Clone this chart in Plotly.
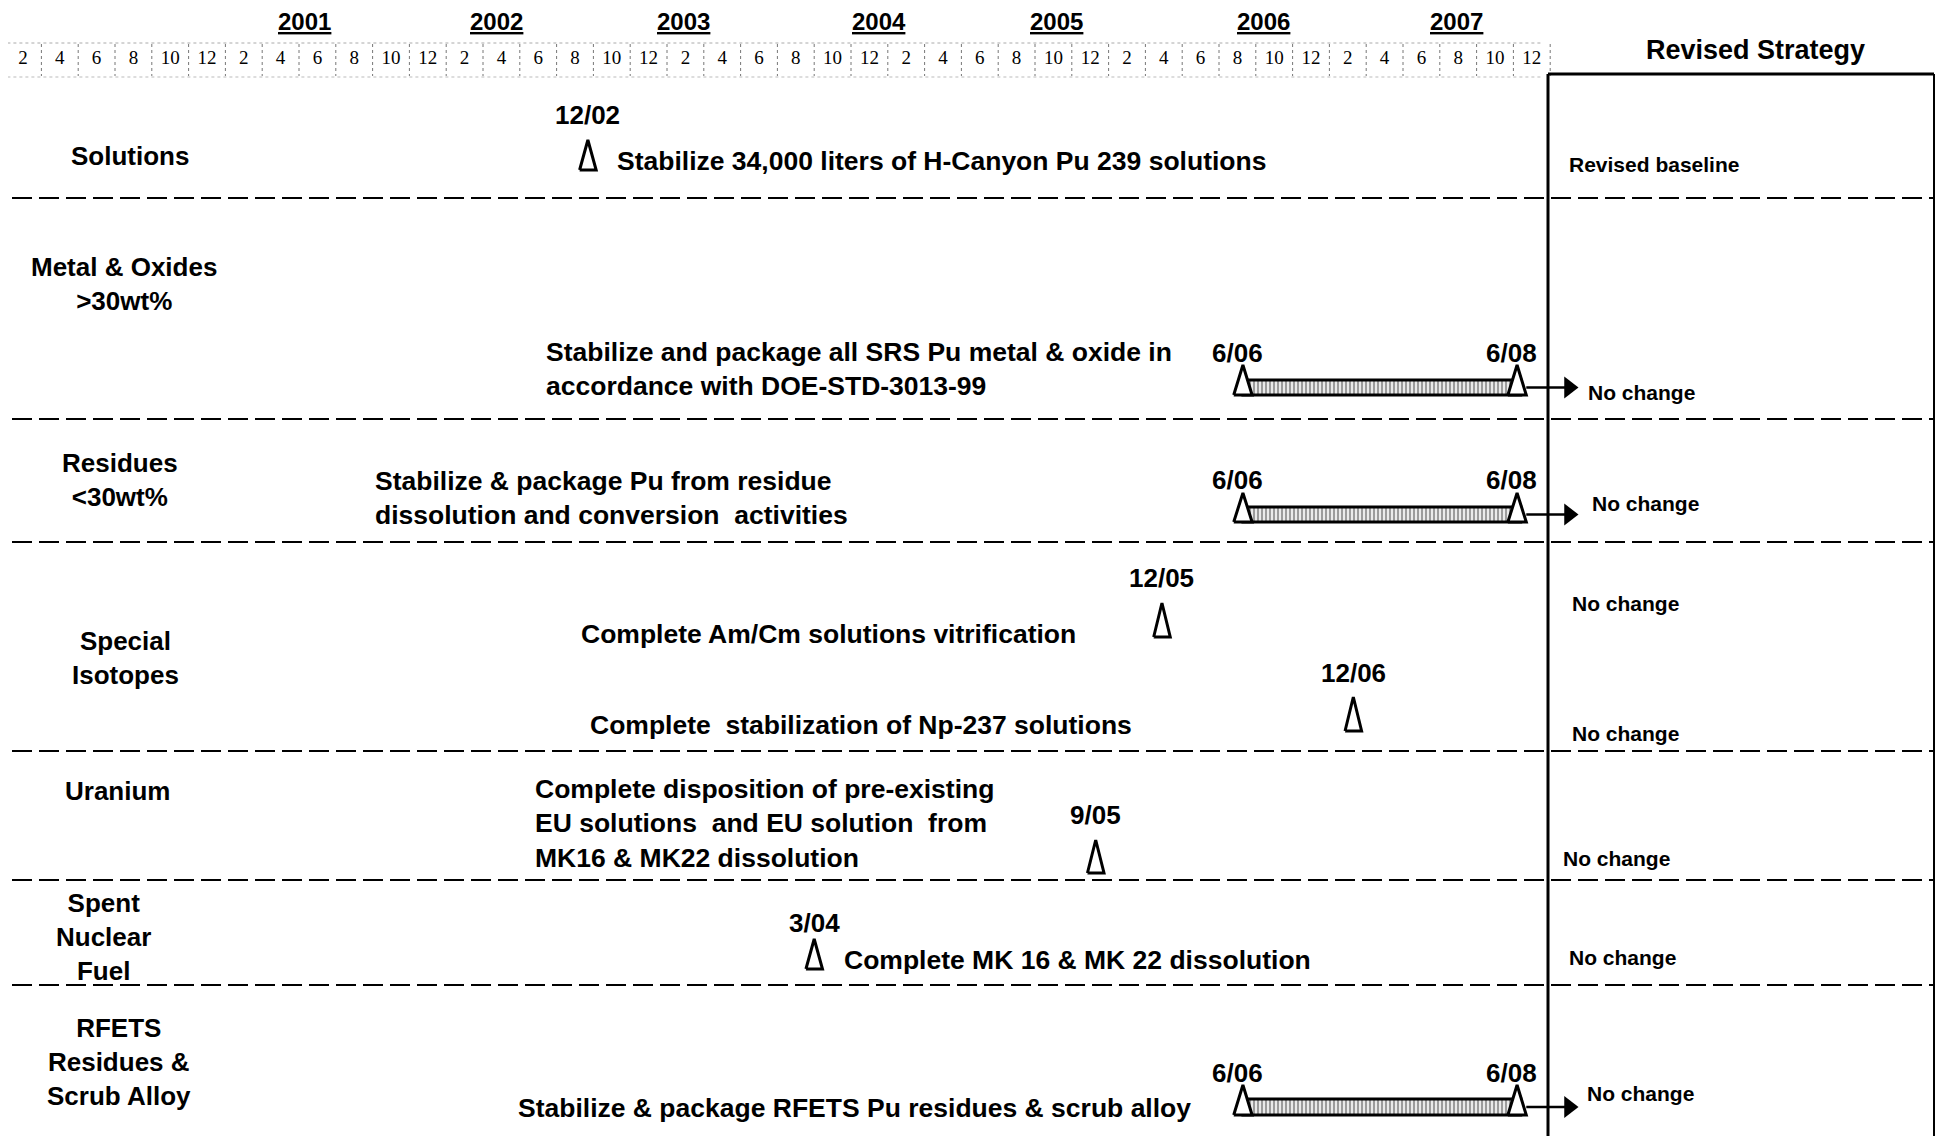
import plotly.graph_objects as go

W, H = 1944, 1144

# ------------------------------------------------------------------ data
years = ["2001", "2002", "2003", "2004", "2005", "2006", "2007"]
month_tick_labels = ["2", "4", "6", "8", "10", "12"]

categories = [
    "Solutions",
    "Metal & Oxides<br>>30wt%",
    "Residues<br>&lt;30wt%",
    "Special<br>Isotopes",
    "Uranium",
    "Spent<br>Nuclear<br>Fuel",
    "RFETS<br>Residues &<br>Scrub Alloy",
]

# single milestones: date label, plotted position on the chart's month scale
# (months after Jan 2001, as drawn), category row, description
milestone_dates = ["12/02", "12/05", "12/06", "9/05", "3/04"]
milestone_pos = [31.7, 62.9, 73.3, 59.3, 44.0]
milestone_row = [0, 3, 3, 4, 5]
milestone_text = [
    "Stabilize 34,000 liters of H-Canyon Pu 239 solutions",
    "Complete Am/Cm solutions vitrification",
    "Complete  stabilization of Np-237 solutions",
    "Complete disposition of pre-existing<br>EU solutions  and EU solution  from<br>MK16 & MK22 dissolution",
    "Complete MK 16 & MK 22 dissolution",
]

# activity bars
bar_start_dates = ["6/06", "6/06", "6/06"]
bar_end_dates = ["6/08", "6/08", "6/08"]
bar_start = [67.3, 67.3, 67.3]
bar_end = [82.2, 82.2, 82.2]
bar_row = [1, 2, 6]
bar_text = [
    "Stabilize and package all SRS Pu metal & oxide in<br>accordance with DOE-STD-3013-99",
    "Stabilize & package Pu from residue<br>dissolution and conversion  activities",
    "Stabilize & package RFETS Pu residues & scrub alloy",
]

status_text = ["Revised baseline", "No change", "No change", "No change",
               "No change", "No change", "No change", "No change"]

# ------------------------------------------------------------------ layout helpers (pixels)
OFF = 8                                  # page body margin
FW, FH = W - 2 * OFF, H - 2 * OFF
X0, DX = 4.6, 18.4                       # month scale: screen px = X0 + DX * month_index
def px2m(p):
    return (p - X0) / DX

def px(x):
    return (x - OFF) / FW

FONT = "Liberation Sans, Arial, sans-serif"
SERIF = "Liberation Serif, Times New Roman, serif"

row_sep_y = [198, 419, 542, 751, 880, 985]
row_label_xy = [(130, 156), (124, 284), (120, 480), (125, 658), (117, 791), (103, 937), (119, 1062)]
year_label_x = [304, 496, 683, 879, 1056, 1263, 1456]

ms_geom = [  # (label_y, apex_y, base_y, desc_x, desc_y)
    (115, 140, 170, 615, 161),
    (578, 603, 637, 579, 634),
    (673, 697, 731, 588, 725),
    (815, 840, 873, 533, 823),
    (923, 939, 969, 842, 960),
]
bar_geom = [  # (label_y, apex_y, top_y, bot_y, desc_x, desc_y)
    (353, 365, 380, 395, 544, 369),
    (480, 493, 507, 522, 373, 498),
    (1073, 1085, 1099, 1115, 516, 1108),
]
status_xy = [(1567, 164), (1586, 392), (1590, 503), (1570, 603), (1570, 733),
             (1561, 858), (1567, 957), (1585, 1093)]

BOX_L, BOX_R, BOX_T = 1548, 1934, 74

fig = go.Figure()
ann = []
shapes = []

def bold(size, family=FONT):
    return dict(family=family, size=size, color="black", weight=700)

# ------------------------------------------------------------------ header
for i, y in enumerate(years):
    ann.append(dict(x=px(year_label_x[i]), xref="paper", y=21, yref="y", xanchor="center",
                    text="<u>" + y + "</u>", showarrow=False, font=bold(24)))

month_idx = []
month_lbl = []
for yi in range(len(years)):
    for lab in month_tick_labels:
        month_idx.append(yi * 12 + int(lab) - 1)
        month_lbl.append(lab)
fig.add_trace(go.Scatter(x=month_idx, y=[59] * len(month_idx), mode="text",
                         text=month_lbl, textposition="middle center",
                         textfont=dict(family=SERIF, size=19, color="black"),
                         hoverinfo="skip", showlegend=False))
for m in month_idx:
    shapes.append(dict(type="line", xref="x", yref="y", x0=m + 1, x1=m + 1, y0=44, y1=76,
                       line=dict(color="#777", width=1, dash="dot")))
shapes.append(dict(type="line", xref="x", yref="y", x0=-0.5, x1=83.5, y0=43, y1=43,
                   line=dict(color="#aaa", width=1, dash="dot")))
shapes.append(dict(type="line", xref="x", yref="y", x0=-0.5, x1=83.5, y0=77, y1=77,
                   line=dict(color="#bbb", width=1, dash="dot")))

ann.append(dict(x=px(1755), xref="paper", y=50, yref="y", xanchor="center",
                text="Revised Strategy", showarrow=False, font=bold(27)))

# ------------------------------------------------------------------ right panel box + row separators
shapes.append(dict(type="line", xref="paper", yref="y", x0=px(BOX_L), x1=px(BOX_L), y0=BOX_T, y1=H,
                   line=dict(color="black", width=3)))
shapes.append(dict(type="line", xref="paper", yref="y", x0=px(BOX_R), x1=px(BOX_R), y0=BOX_T, y1=H,
                   line=dict(color="black", width=2)))
shapes.append(dict(type="line", xref="paper", yref="y", x0=px(BOX_L), x1=px(BOX_R), y0=BOX_T, y1=BOX_T,
                   line=dict(color="black", width=3)))
for y in row_sep_y:
    shapes.append(dict(type="line", xref="paper", yref="y", x0=px(12), x1=px(BOX_R), y0=y, y1=y,
                       line=dict(color="black", width=2, dash="20px,7px")))

# ------------------------------------------------------------------ row labels
for i, c in enumerate(categories):
    x, y = row_label_xy[i]
    ann.append(dict(x=px(x), xref="paper", y=y, yref="y", text=c, showarrow=False,
                    xanchor="center", align="center", font=bold(26)))

# ------------------------------------------------------------------ milestones
HW = 0.45
for i, m in enumerate(milestone_pos):
    ly, ay, by, dx, dy = ms_geom[i]
    fig.add_trace(go.Scatter(x=[m - HW, m, m + HW, m - HW], y=[by, ay, by, by],
                             mode="lines", fill="toself", fillcolor="white",
                             line=dict(color="black", width=3),
                             hoverinfo="skip", showlegend=False))
    ann.append(dict(x=m, xref="x", y=ly, yref="y", text=milestone_dates[i], showarrow=False,
                    xanchor="center", font=bold(26)))
    ann.append(dict(x=px(dx), xref="paper", y=dy, yref="y", text=milestone_text[i],
                    showarrow=False, xanchor="left", align="left", font=bold(26.5)))

# ------------------------------------------------------------------ bars
ARROW_TIP = px2m(1569)
for i in range(len(bar_start)):
    s, e = bar_start[i], bar_end[i]
    ly, ay, ty, byy, dx, dy = bar_geom[i]
    fig.add_trace(go.Scatter(x=[s, e + 0.2, e + 0.2, s, s], y=[ty, ty, byy, byy, ty],
                             mode="lines", fill="toself",
                             fillpattern=dict(shape="|", fgcolor="#444", bgcolor="#f2f2f2",
                                              size=4, solidity=0.55),
                             line=dict(color="black", width=3),
                             hoverinfo="skip", showlegend=False))
    for m in (s, e):
        fig.add_trace(go.Scatter(x=[m - 0.5, m, m + 0.5, m - 0.5], y=[byy, ay, byy, byy],
                                 mode="lines", fill="toself", fillcolor="white",
                                 line=dict(color="black", width=3),
                                 hoverinfo="skip", showlegend=False))
    mid = (ty + byy) / 2
    fig.add_trace(go.Scatter(x=[e + 0.5, ARROW_TIP], y=[mid, mid], mode="lines",
                             line=dict(color="black", width=2.5),
                             hoverinfo="skip", showlegend=False))
    fig.add_trace(go.Scatter(x=[ARROW_TIP], y=[mid], mode="markers",
                             marker=dict(symbol="triangle-right", size=19, color="black"),
                             hoverinfo="skip", showlegend=False))
    ann.append(dict(x=s, xref="x", y=ly, yref="y", text=bar_start_dates[i], showarrow=False,
                    xanchor="center", xshift=-5, font=bold(26)))
    ann.append(dict(x=e, xref="x", y=ly, yref="y", text=bar_end_dates[i], showarrow=False,
                    xanchor="center", xshift=-6, font=bold(26)))
    ann.append(dict(x=px(dx), xref="paper", y=dy, yref="y", text=bar_text[i],
                    showarrow=False, xanchor="left", align="left", font=bold(26.5)))

# ------------------------------------------------------------------ status column
for i, t in enumerate(status_text):
    x, y = status_xy[i]
    ann.append(dict(x=px(x), xref="paper", y=y, yref="y", text=t, showarrow=False,
                    xanchor="left", font=bold(21)))

fig.update_layout(
    width=FW, height=FH, margin=dict(l=0, r=0, t=0, b=0),
    paper_bgcolor="white", plot_bgcolor="white",
    xaxis=dict(range=[px2m(OFF), px2m(OFF + FW)], visible=False, fixedrange=True),
    yaxis=dict(range=[OFF + FH, OFF], visible=False, fixedrange=True),
    annotations=ann, shapes=shapes, showlegend=False,
)
fig.write_html("out.html")
